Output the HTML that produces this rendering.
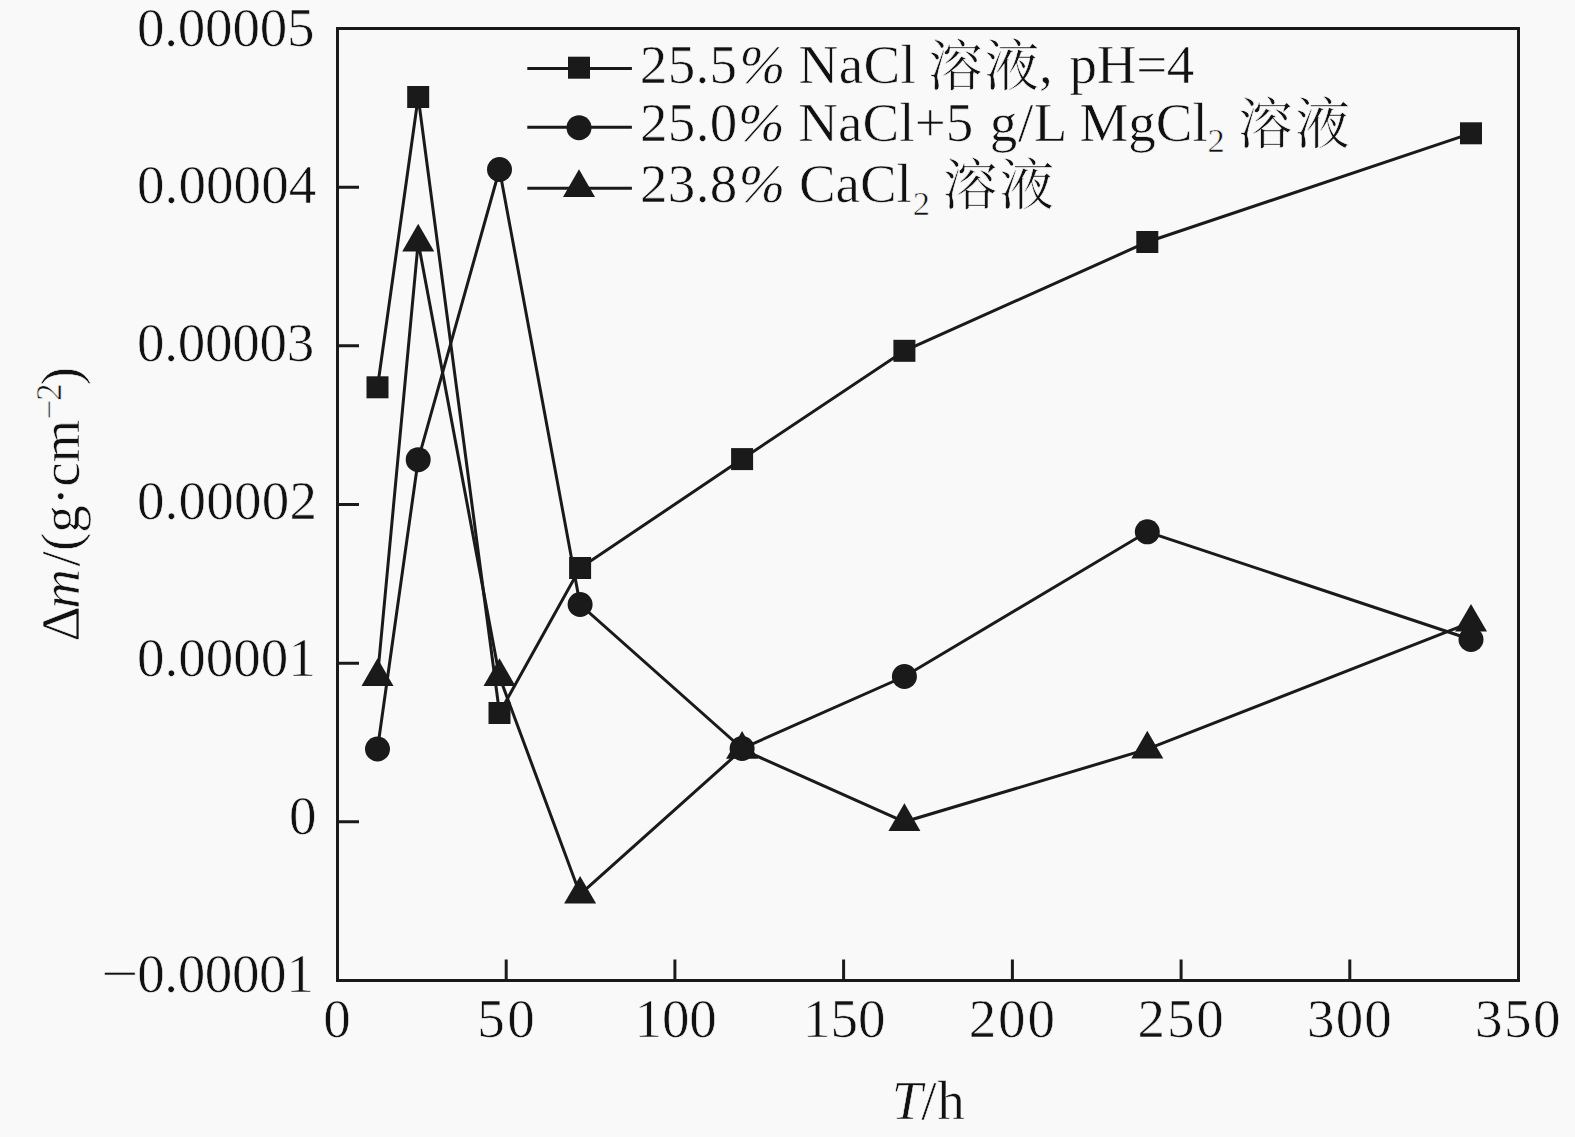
<!DOCTYPE html>
<html lang="zh">
<head>
<meta charset="utf-8">
<title>Δm/(g·cm⁻²) – T/h</title>
<style>
html,body{margin:0;padding:0;background:#f9f9f9;}
body{width:1575px;height:1137px;overflow:hidden;}
svg{display:block;}
text{font-family:"Liberation Serif","Noto Serif CJK SC",serif;font-size:55px;fill:#111;stroke:#f9f9f9;stroke-width:0.6px;}
.it{font-style:italic;}
.cjk{font-family:"Noto Serif CJK SC","Liberation Serif",serif;font-size:55px;}
.sub{font-size:34.5px;}
.sup{font-size:35px;}
.ln{fill:none;stroke:#1a1a1a;stroke-width:3.0;stroke-linejoin:miter;}
.ax{fill:none;stroke:#1a1a1a;stroke-width:3;}
.mk{fill:#1a1a1a;stroke:none;}
</style>
</head>
<body>
<svg width="1575" height="1137" viewBox="0 0 1575 1137">
<rect x="0" y="0" width="1575" height="1137" fill="#f9f9f9"/>

<rect class="ax" x="337.5" y="28.5" width="1181.0" height="952.0"/>
<path class="ax" d="M506.2,980.5 v-21 M674.9,980.5 v-21 M843.6,980.5 v-21 M1012.4,980.5 v-21 M1181.1,980.5 v-21 M1349.8,980.5 v-21 M337.5,821.8 h21.5 M337.5,663.2 h21.5 M337.5,504.5 h21.5 M337.5,345.8 h21.5 M337.5,187.2 h21.5"/>
<polyline class="ln" points="377.5,387.3 418.2,97.0 499.5,713.0 580.1,568.0 742.1,459.1 904.4,350.8 1147.3,242.0 1471.0,133.3"/>
<polyline class="ln" points="377.5,749.0 418.2,459.7 499.5,169.5 580.1,604.5 742.1,748.5 904.4,676.5 1147.3,531.8 1471.0,639.5"/>
<polyline class="ln" points="377.5,676.8 418.2,242.2 499.5,676.8 580.1,894.4 742.1,749.5 904.4,821.8 1147.3,749.2 1471.0,622.4"/>
<g class="mk">
<rect x="366.5" y="376.3" width="22" height="22"/>
<rect x="407.2" y="86.0" width="22" height="22"/>
<rect x="488.5" y="702.0" width="22" height="22"/>
<rect x="569.1" y="557.0" width="22" height="22"/>
<rect x="731.1" y="448.1" width="22" height="22"/>
<rect x="893.4" y="339.8" width="22" height="22"/>
<rect x="1136.3" y="231.0" width="22" height="22"/>
<rect x="1460.0" y="122.3" width="22" height="22"/>
<circle cx="377.5" cy="749.0" r="12.5"/>
<circle cx="418.2" cy="459.7" r="12.5"/>
<circle cx="499.5" cy="169.5" r="12.5"/>
<circle cx="580.1" cy="604.5" r="12.5"/>
<circle cx="742.1" cy="748.5" r="12.5"/>
<circle cx="904.4" cy="676.5" r="12.5"/>
<circle cx="1147.3" cy="531.8" r="12.5"/>
<circle cx="1471.0" cy="639.5" r="12.5"/>
<polygon points="377.5,658.3 361.5,686.0 393.5,686.0"/>
<polygon points="418.2,223.7 402.2,251.4 434.2,251.4"/>
<polygon points="499.5,658.3 483.5,686.0 515.5,686.0"/>
<polygon points="580.1,875.9 564.1,903.6 596.1,903.6"/>
<polygon points="742.1,731.0 726.1,758.7 758.1,758.7"/>
<polygon points="904.4,803.3 888.4,831.0 920.4,831.0"/>
<polygon points="1147.3,730.7 1131.3,758.4 1163.3,758.4"/>
<polygon points="1471.0,603.9 1455.0,631.6 1487.0,631.6"/>
</g>
<path class="ln" d="M527.3,68.6 H631.9 M527.3,127.3 H631.9 M527.3,188.2 H631.9"/>
<g class="mk"><rect x="568.0" y="56.7" width="22" height="22"/><circle cx="579.0" cy="127.7" r="12.5"/><polygon points="579.0,169.3 563.0,197.0 595.0,197.0"/></g>
<text x="639.8" y="82.6" style="letter-spacing:0.33px">25.5</text>
<text x="739.4" y="82.6" class="it">%</text>
<text x="798.5" y="82.6" style="letter-spacing:0.43px">NaCl</text>
<text x="927.7" y="84.6" class="cjk" style="letter-spacing:1.60px">溶液</text>
<text x="1039.0" y="82.6">,</text>
<text x="1069.6" y="82.6" style="letter-spacing:-0.33px">pH=4</text>
<text x="640.0" y="140.9" style="letter-spacing:0.33px">25.0</text>
<text x="738.1" y="140.9" class="it" textLength="46.7" lengthAdjust="spacingAndGlyphs">%</text>
<text x="798.3" y="140.9" style="letter-spacing:0.06px">NaCl+5</text>
<text x="989.7" y="140.9" style="letter-spacing:0.70px">g/L</text>
<text x="1079.4" y="140.9">MgCl</text>
<text x="1207.6" y="151.9" class="sub">2</text>
<text x="1237.7" y="142.9" class="cjk" style="letter-spacing:2.40px">溶液</text>
<text x="640.0" y="202.4" style="letter-spacing:0.33px">23.8</text>
<text x="738.7" y="202.4" class="it" textLength="46.4" lengthAdjust="spacingAndGlyphs">%</text>
<text x="799.0" y="202.4" style="letter-spacing:-0.10px">CaCl</text>
<text x="912.7" y="214.6" class="sub">2</text>
<text x="942.4" y="204.4" class="cjk" style="letter-spacing:1.90px">溶液</text>
<text x="136.9" y="46.2" style="letter-spacing:-0.18px">0.00005</text>
<text x="136.9" y="203.2" style="letter-spacing:0.12px">0.00004</text>
<text x="136.9" y="361" style="letter-spacing:-0.23px">0.00003</text>
<text x="136.9" y="519" style="letter-spacing:0.22px">0.00002</text>
<text x="136.9" y="676">0.00001</text>
<text x="289.0" y="834">0</text>
<text x="100.8" y="992" textLength="37.5" lengthAdjust="spacingAndGlyphs">−</text>
<text x="137.2" y="992.01" style="letter-spacing:-0.37px">0.00001</text>
<text x="323.2" y="1037.2">0</text>
<text x="477.3" y="1037.2" style="letter-spacing:2.50px">50</text>
<text x="634.6" y="1037.2" style="letter-spacing:-0.20px">100</text>
<text x="803.1" y="1037.2">150</text>
<text x="968.7" y="1037.2" style="letter-spacing:1.85px">200</text>
<text x="1137.6" y="1037.2" style="letter-spacing:1.85px">250</text>
<text x="1307.1" y="1037.2" style="letter-spacing:1.05px">300</text>
<text x="1475.1" y="1037.2" style="letter-spacing:1.50px">350</text>
<text x="891.8" y="1118.6"><tspan class="it">T</tspan><tspan x="921.3">/</tspan><tspan x="937.3">h</tspan></text>
<text transform="translate(79,641) rotate(-90)" x="0" y="0"><tspan x="-0.6">Δ</tspan><tspan x="32.3" class="it">m</tspan><tspan x="74.4">/</tspan><tspan x="89.9">(</tspan><tspan x="108.2">g</tspan><tspan x="135.7">·</tspan><tspan x="154.2">c</tspan><tspan x="178.5">m</tspan><tspan x="221.5" dy="-18.2" class="sup">−</tspan><tspan x="240.3" class="sup">2</tspan><tspan x="255.8" dy="18.2">)</tspan></text>
</svg>
</body>
</html>
